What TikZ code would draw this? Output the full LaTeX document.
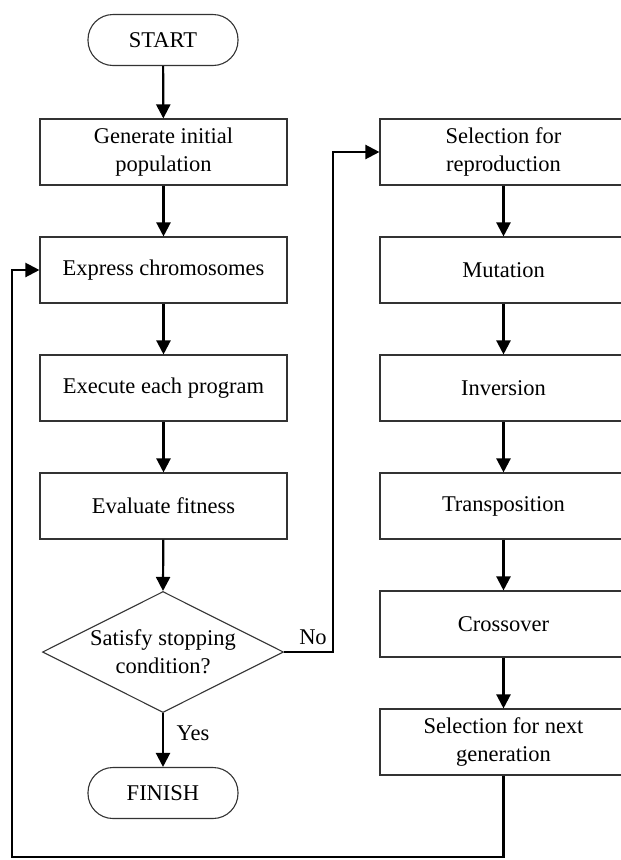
\documentclass[tikz,border=0pt]{standalone}
\usepackage{fontspec}
\setmainfont{Liberation Serif}
\usetikzlibrary{shapes.geometric,arrows.meta}
\begin{document}
\begin{tikzpicture}[x=1pt,y=-1pt,
  txt/.style={font=\fontsize{22.5}{28}\selectfont},
  box/.style={txt,draw=black!80,line width=1.1pt,minimum width=247pt,minimum height=66pt,align=center,inner sep=2pt},
  term/.style={txt,draw=black!80,line width=1.1pt,rounded corners=25pt,minimum width=150pt,minimum height=51pt},
  dec/.style={draw=black!80,line width=1.1pt,diamond,shape aspect=2,minimum width=241pt,minimum height=121pt,inner sep=0pt},
  flow/.style={line width=2.2pt,-{Triangle[width=14pt,length=14pt]}},
  lbl/.style={txt}]
\useasboundingbox (0,0) rectangle (621,860);
\clip (0,0) rectangle (621,860);
\node[term] (start) at (163,40) {START};
\node[box] (gen) at (163.5,152) {Generate initial\\population};
\node[box] (expr) at (163.5,270) {Express chromosomes};
\node[box] (exec) at (163.5,388) {Execute each program};
\node[box] (eval) at (163.5,506) {Evaluate fitness};
\node[dec] (cond) at (163,652) {};
\node[lbl,align=center] (condtxt) at (163,652) {Satisfy stopping\\condition?};
\node[term] (finish) at (163,793) {FINISH};
\node[box] (sel) at (503.5,152) {Selection for\\reproduction};
\node[box] (mut) at (503.5,270) {Mutation};
\node[box] (inv) at (503.5,388) {Inversion};
\node[box] (tra) at (503.5,506) {Transposition};
\node[box] (cro) at (503.5,624) {Crossover};
\node[box] (nxt) at (503.5,742) {Selection for next\\generation};
\coordinate (nocorner1) at (333,652);
\coordinate (nocorner2) at (333,152);
\coordinate (lp1) at (503.5,857);
\coordinate (lp2) at (12,857);
\coordinate (lp3) at (12,270);
\draw[flow] (start) -- (gen);
\draw[flow] (gen) -- (expr);
\draw[flow] (expr) -- (exec);
\draw[flow] (exec) -- (eval);
\draw[flow] (eval) -- (cond.north);
\draw[flow] (cond.south) -- (finish);
\draw[flow] (cond.east) -- (nocorner1) -- (nocorner2) -- (sel.west);
\draw[flow] (sel) -- (mut);
\draw[flow] (mut) -- (inv);
\draw[flow] (inv) -- (tra);
\draw[flow] (tra) -- (cro);
\draw[flow] (cro) -- (nxt);
\draw[flow] (nxt.south) -- (lp1) -- (lp2) -- (lp3) -- (expr.west);
\node[lbl] (no) at (313,637) {No};
\node[lbl] (yes) at (193,733) {Yes};
\end{tikzpicture}
\end{document}
